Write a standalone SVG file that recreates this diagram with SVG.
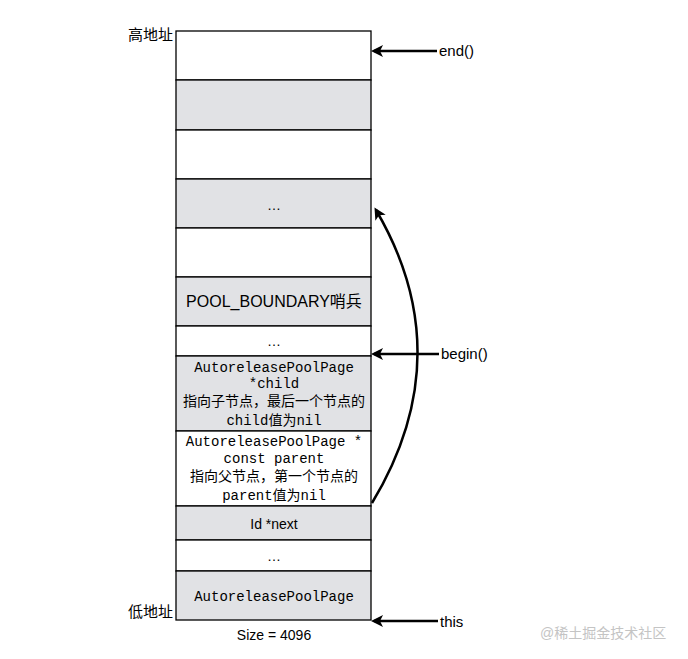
<svg xmlns="http://www.w3.org/2000/svg" width="688" height="659" viewBox="0 0 688 659">
<style>
.w{fill:#ffffff;stroke:#000;stroke-width:1.3}
.g{fill:#e1e2e5;stroke:#000;stroke-width:1.3}
.s{font-family:"Liberation Sans","Noto Sans CJK SC",sans-serif;font-size:14px;fill:#000}
.l{font-size:15px}
.m{font-family:"Liberation Mono","Noto Sans CJK SC",monospace;font-size:14px;fill:#000;text-anchor:middle}
.c{text-anchor:middle}
.a{fill:none;stroke:#000;stroke-width:2.5}
</style>
<defs>
<marker id="ah" markerWidth="12" markerHeight="12" refX="9" refY="6" orient="auto" markerUnits="userSpaceOnUse">
<path d="M0,0 L12,6 L0,12 L3,6 Z" fill="#000"/>
</marker>
</defs>
<rect width="688" height="659" fill="#fff"/>
<g id="row1"><rect class="w" x="176" y="31" width="195" height="49"/></g>
<g id="row2"><rect class="g" x="176" y="80" width="195" height="50"/></g>
<g id="row3"><rect class="w" x="176" y="130" width="195" height="49"/></g>
<g id="row4"><rect class="g" x="176" y="179" width="195" height="49"/><text class="s c" x="274" y="210">…</text></g>
<g id="row5"><rect class="w" x="176" y="228" width="195" height="49"/></g>
<g id="row6"><rect class="g" x="176" y="277" width="195" height="49"/><text class="s c" x="274" y="307" style="font-size:16px">POOL_BOUNDARY哨兵</text></g>
<g id="row7"><rect class="w" x="176" y="326" width="195" height="30"/><text class="s c" x="274" y="346">…</text></g>
<g id="row8"><rect class="g" x="176" y="356" width="195" height="75"/>
<text class="m" x="274" y="372">AutoreleasePoolPage</text>
<text class="m" x="274" y="388">*child</text>
<text class="m" x="274" y="406">指向子节点，最后一个节点的</text>
<text class="m" x="274" y="425">child值为nil</text></g>
<g id="row9"><rect class="w" x="176" y="431" width="195" height="75"/>
<text class="m" x="274" y="446">AutoreleasePoolPage *</text>
<text class="m" x="274" y="463">const parent</text>
<text class="m" x="274" y="481">指向父节点，第一个节点的</text>
<text class="m" x="274" y="500">parent值为nil</text></g>
<g id="row10"><rect class="g" x="176" y="506" width="195" height="34"/><text class="s c" x="274" y="529">Id *next</text></g>
<g id="row11"><rect class="w" x="176" y="540" width="195" height="31"/><text class="s c" x="274" y="561">…</text></g>
<g id="row12"><rect class="g" x="176" y="571" width="195" height="49"/><text class="m" x="274" y="601">AutoreleasePoolPage</text></g>
<g id="labels">
<text class="s l" x="128" y="40">高地址</text>
<text class="s l" x="128" y="617">低地址</text>
<text class="s c" x="274" y="640">Size = 4096</text>
<text class="s l" x="439" y="56">end()</text>
<text class="s l" x="441" y="359">begin()</text>
<text class="s l" x="440" y="627">this</text>
</g>
<g id="connectors">
<line class="a" x1="437" y1="51" x2="374" y2="51" marker-end="url(#ah)"/>
<line class="a" x1="439" y1="354" x2="374" y2="354" marker-end="url(#ah)"/>
<line class="a" x1="438" y1="621" x2="374" y2="621" marker-end="url(#ah)"/>
<path class="a" d="M372,503 Q461,355 376,210" marker-end="url(#ah)"/>
</g>
<text x="540" y="638" style="font-family:'Liberation Sans','Noto Sans CJK SC',sans-serif;font-size:14px;fill:#c4c4c4">@稀土掘金技术社区</text>
</svg>
